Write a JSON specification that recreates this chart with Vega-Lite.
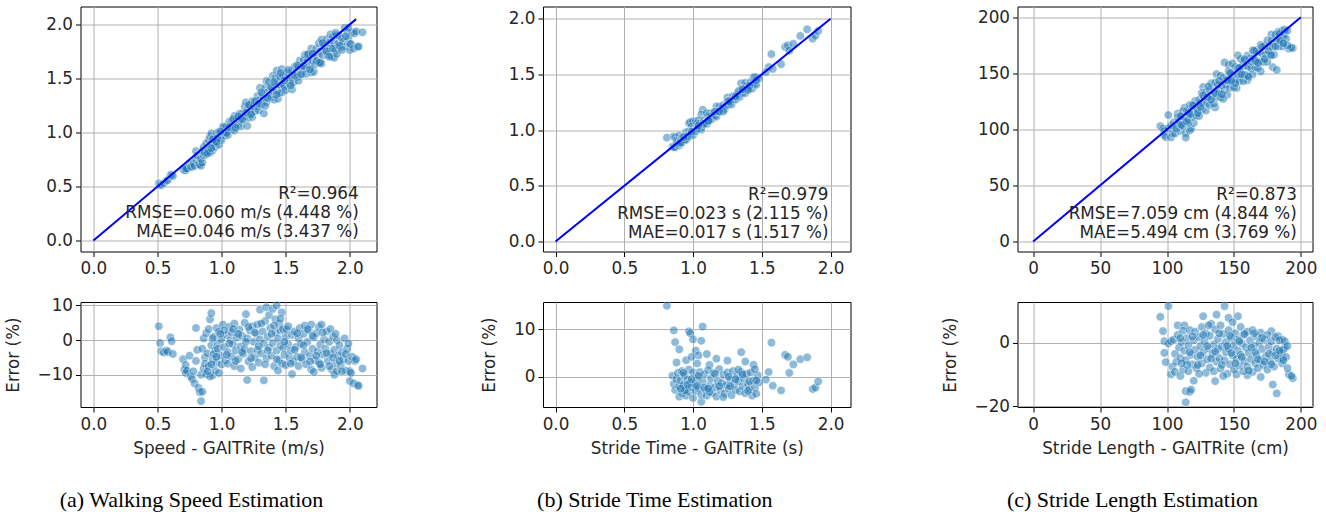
{
"$schema":"https://vega.github.io/schema/vega-lite/v6.json",
"background":"white",
"padding":{"left":4.5,"top":5.5,"right":5,"bottom":2},
"config":{
 "font":"DejaVu Sans",
 "view":{"stroke":"#000000","strokeWidth":1},
 "axis":{"grid":true,"gridColor":"#b0b0b0","gridWidth":1,"domain":false,"tickColor":"#000000","tickWidth":1,"labelFont":"DejaVu Sans","labelFontSize":16.8,"labelColor":"#262626","titleFont":"DejaVu Sans","titleFontSize":16.8,"titleFontWeight":"normal","titleColor":"#262626"},
 "axisX":{"tickSize":5,"labelPadding":4,"titlePadding":8},
 "axisY":{"tickSize":5,"labelPadding":3,"titlePadding":15},
 "title":{"font":"Liberation Serif","fontSize":22,"fontWeight":"normal","color":"#000000"}
},
"datasets":{
"speed":[
{"gt":0.51,"est":0.530,"err":4.0},{"gt":0.52,"est":0.516,"err":-0.8},{"gt":0.53,"est":0.513,"err":-3.2},{"gt":0.55,"est":0.530,"err":-3.6},{"gt":0.57,"est":0.553,"err":-3.0},{"gt":0.58,"est":0.560,"err":-3.4},{"gt":0.60,"est":0.605,"err":0.8},{"gt":0.61,"est":0.608,"err":-0.3},{"gt":0.62,"est":0.595,"err":-4.0},
{"gt":0.70,"est":0.662,"err":-5.5},{"gt":0.71,"est":0.650,"err":-8.5},{"gt":0.72,"est":0.652,"err":-9.5},{"gt":0.72,"est":0.668,"err":-7.2},{"gt":0.73,"est":0.666,"err":-8.8},{"gt":0.75,"est":0.716,"err":-4.5},{"gt":0.76,"est":0.680,"err":-10.5},{"gt":0.77,"est":0.684,"err":-11.2},{"gt":0.78,"est":0.710,"err":-9.0},{"gt":0.79,"est":0.691,"err":-12.5},{"gt":0.80,"est":0.752,"err":-6.0},{"gt":0.80,"est":0.828,"err":3.5},{"gt":0.81,"est":0.787,"err":-2.8},{"gt":0.82,"est":0.707,"err":-13.8},{"gt":0.83,"est":0.706,"err":-15.0},{"gt":0.84,"est":0.692,"err":-17.6},{"gt":0.85,"est":0.723,"err":-14.9},{"gt":0.84,"est":0.756,"err":-10.0},{"gt":0.86,"est":0.790,"err":-8.2},{"gt":0.87,"est":0.827,"err":-5.0},{"gt":0.88,"est":0.794,"err":-9.8},
{"gt":0.85,"est":0.829,"err":-2.5},{"gt":0.86,"est":0.864,"err":0.5},{"gt":0.87,"est":0.811,"err":-6.8},{"gt":0.88,"est":0.898,"err":2.0},{"gt":0.89,"est":0.856,"err":-3.8},{"gt":0.90,"est":0.833,"err":-7.5},{"gt":0.90,"est":0.929,"err":3.2},{"gt":0.91,"est":0.965,"err":6.0},{"gt":0.92,"est":0.992,"err":7.8},{"gt":0.92,"est":0.906,"err":-1.5},{"gt":0.93,"est":0.879,"err":-5.5},{"gt":0.93,"est":0.835,"err":-10.2},{"gt":0.94,"est":0.949,"err":1.0},{"gt":0.95,"est":0.866,"err":-8.8},{"gt":0.95,"est":0.922,"err":-3.0},{"gt":0.96,"est":0.898,"err":-6.5},{"gt":0.96,"est":0.994,"err":3.5},{"gt":0.97,"est":0.960,"err":-1.0},{"gt":0.98,"est":0.887,"err":-9.5},{"gt":0.98,"est":1.005,"err":2.5},{"gt":0.99,"est":0.945,"err":-4.5},{"gt":1.00,"est":1.003,"err":0.3},{"gt":1.00,"est":0.930,"err":-7.0},{"gt":0.91,"est":0.814,"err":-10.5},{"gt":0.94,"est":0.902,"err":-4.0},{"gt":0.97,"est":0.946,"err":-2.5},
{"gt":1.01,"est":1.055,"err":4.5},{"gt":1.02,"est":1.000,"err":-2.0},{"gt":1.03,"est":0.970,"err":-5.8},{"gt":1.04,"est":1.056,"err":1.5},{"gt":1.05,"est":1.013,"err":-3.5},{"gt":1.05,"est":0.979,"err":-6.8},{"gt":1.06,"est":1.100,"err":3.8},{"gt":1.07,"est":1.070,"err":0.0},{"gt":1.08,"est":1.028,"err":-4.8},{"gt":1.08,"est":1.104,"err":2.2},{"gt":1.09,"est":1.077,"err":-1.2},{"gt":1.10,"est":1.018,"err":-7.5},{"gt":1.10,"est":1.153,"err":4.8},{"gt":1.11,"est":1.077,"err":-3.0},{"gt":1.12,"est":1.129,"err":0.8},{"gt":1.13,"est":1.068,"err":-5.5},{"gt":1.14,"est":1.174,"err":3.0},{"gt":1.15,"est":1.129,"err":-1.8},{"gt":1.15,"est":1.056,"err":-8.2},{"gt":1.16,"est":1.174,"err":1.2},{"gt":1.17,"est":1.123,"err":-4.0},{"gt":1.18,"est":1.239,"err":5.0},{"gt":1.18,"est":1.151,"err":-2.5},{"gt":1.19,"est":1.279,"err":7.5},{"gt":1.20,"est":1.062,"err":-11.5},{"gt":1.20,"est":1.206,"err":0.5},{"gt":1.21,"est":1.135,"err":-6.2},{"gt":1.22,"est":1.254,"err":2.8},{"gt":1.23,"est":1.191,"err":-3.2},{"gt":1.24,"est":1.143,"err":-7.8},{"gt":1.24,"est":1.290,"err":4.0},{"gt":1.25,"est":1.244,"err":-0.5},{"gt":1.26,"est":1.197,"err":-5.0},{"gt":1.27,"est":1.293,"err":1.8},{"gt":1.28,"est":1.244,"err":-2.8},{"gt":1.28,"est":1.338,"err":4.5},{"gt":1.29,"est":1.206,"err":-6.5},{"gt":1.30,"est":1.303,"err":0.2},{"gt":1.30,"est":1.414,"err":8.8},{"gt":1.31,"est":1.260,"err":-3.8},{"gt":1.32,"est":1.353,"err":2.5},{"gt":1.33,"est":1.176,"err":-11.6},{"gt":1.33,"est":1.317,"err":-1.0},{"gt":1.34,"est":1.414,"err":5.5},{"gt":1.35,"est":1.280,"err":-5.2},{"gt":1.35,"est":1.478,"err":9.5},{"gt":1.36,"est":1.374,"err":1.0},{"gt":1.37,"est":1.340,"err":-2.2},{"gt":1.37,"est":1.469,"err":7.2},
{"gt":1.38,"est":1.428,"err":3.5},{"gt":1.39,"est":1.327,"err":-4.5},{"gt":1.40,"est":1.526,"err":9.0},{"gt":1.40,"est":1.389,"err":-0.8},{"gt":1.41,"est":1.304,"err":-7.5},{"gt":1.42,"est":1.451,"err":2.2},{"gt":1.42,"est":1.505,"err":6.0},{"gt":1.43,"est":1.573,"err":10.0},{"gt":1.43,"est":1.387,"err":-3.0},{"gt":1.44,"est":1.313,"err":-8.8},{"gt":1.44,"est":1.447,"err":0.5},{"gt":1.45,"est":1.520,"err":4.8},{"gt":1.45,"est":1.366,"err":-5.8},{"gt":1.46,"est":1.501,"err":2.8},{"gt":1.46,"est":1.438,"err":-1.5},{"gt":1.47,"est":1.588,"err":8.0},{"gt":1.47,"est":1.370,"err":-6.8},{"gt":1.48,"est":1.447,"err":-2.2},{"gt":1.48,"est":1.527,"err":3.2},{"gt":1.49,"est":1.427,"err":-4.2},{"gt":1.50,"est":1.515,"err":1.0},{"gt":1.50,"est":1.392,"err":-7.2},
{"gt":1.51,"est":1.555,"err":3.0},{"gt":1.52,"est":1.502,"err":-1.2},{"gt":1.53,"est":1.454,"err":-5.0},{"gt":1.54,"est":1.494,"err":-3.0},{"gt":1.55,"est":1.573,"err":1.5},{"gt":1.55,"est":1.398,"err":-9.8},{"gt":1.56,"est":1.463,"err":-6.2},{"gt":1.57,"est":1.609,"err":2.5},{"gt":1.58,"est":1.548,"err":-2.0},{"gt":1.59,"est":1.514,"err":-4.8},{"gt":1.60,"est":1.608,"err":0.5},{"gt":1.60,"est":1.480,"err":-7.5},{"gt":1.61,"est":1.666,"err":3.5},{"gt":1.62,"est":1.604,"err":-1.0},{"gt":1.63,"est":1.540,"err":-5.5},{"gt":1.64,"est":1.670,"err":1.8},{"gt":1.65,"est":1.592,"err":-3.5},{"gt":1.65,"est":1.719,"err":4.2},{"gt":1.66,"est":1.544,"err":-7.0},{"gt":1.67,"est":1.662,"err":-0.5},{"gt":1.68,"est":1.727,"err":2.8},{"gt":1.69,"est":1.614,"err":-4.5},{"gt":1.70,"est":1.556,"err":-8.5},{"gt":1.70,"est":1.777,"err":4.5},{"gt":1.71,"est":1.667,"err":-2.5},{"gt":1.72,"est":1.734,"err":0.8},{"gt":1.72,"est":1.562,"err":-9.2},{"gt":1.73,"est":1.630,"err":-5.8},{"gt":1.74,"est":1.775,"err":2.0},{"gt":1.75,"est":1.694,"err":-3.2},{"gt":1.76,"est":1.646,"err":-6.5},{"gt":1.76,"est":1.827,"err":3.8},{"gt":1.77,"est":1.749,"err":-1.2},{"gt":1.78,"est":1.860,"err":4.5},{"gt":1.78,"est":1.638,"err":-8.0},{"gt":1.79,"est":1.715,"err":-4.2},{"gt":1.80,"est":1.804,"err":0.2},
{"gt":1.81,"est":1.765,"err":-2.5},{"gt":1.82,"est":1.866,"err":2.5},{"gt":1.83,"est":1.720,"err":-6.0},{"gt":1.84,"est":1.831,"err":-0.5},{"gt":1.85,"est":1.909,"err":3.2},{"gt":1.85,"est":1.776,"err":-4.0},{"gt":1.86,"est":1.702,"err":-8.5},{"gt":1.87,"est":1.889,"err":1.0},{"gt":1.88,"est":1.827,"err":-2.8},{"gt":1.88,"est":1.692,"err":-10.0},{"gt":1.89,"est":1.761,"err":-6.8},{"gt":1.90,"est":1.900,"err":0.0},{"gt":1.90,"est":1.729,"err":-9.0},{"gt":1.91,"est":1.824,"err":-4.5},{"gt":1.92,"est":1.891,"err":-1.5},{"gt":1.93,"est":1.791,"err":-7.2},{"gt":1.94,"est":1.872,"err":-3.5},{"gt":1.95,"est":1.843,"err":-5.5},{"gt":1.96,"est":1.970,"err":0.5},{"gt":1.97,"est":1.797,"err":-8.8},{"gt":1.98,"est":1.930,"err":-2.5},{"gt":1.99,"est":1.871,"err":-6.0},{"gt":2.00,"est":1.764,"err":-11.8},{"gt":2.00,"est":1.820,"err":-9.0},{"gt":2.01,"est":1.819,"err":-9.5},{"gt":2.02,"est":1.923,"err":-4.8},{"gt":2.03,"est":1.776,"err":-12.5},{"gt":2.04,"est":1.918,"err":-6.0},{"gt":2.05,"est":1.937,"err":-5.5},{"gt":2.06,"est":1.792,"err":-13.0},{"gt":2.07,"est":1.797,"err":-13.2},{"gt":2.10,"est":1.928,"err":-8.2},
{"gt":1.02,"est":1.049,"err":2.8},{"gt":1.04,"est":0.996,"err":-4.2},{"gt":1.06,"est":1.049,"err":-1.0},{"gt":1.09,"est":1.125,"err":3.2},{"gt":1.11,"est":1.043,"err":-6.0},{"gt":1.13,"est":1.150,"err":1.8},{"gt":1.16,"est":1.119,"err":-3.5},{"gt":1.19,"est":1.184,"err":-0.5},{"gt":1.21,"est":1.256,"err":3.8},{"gt":1.23,"est":1.166,"err":-5.2},{"gt":1.26,"est":1.288,"err":2.2},{"gt":1.29,"est":1.267,"err":-1.8},{"gt":1.31,"est":1.373,"err":4.8},{"gt":1.34,"est":1.246,"err":-7.0},{"gt":1.36,"est":1.319,"err":-3.0},{"gt":1.39,"est":1.415,"err":1.8},{"gt":1.41,"est":1.469,"err":4.2},{"gt":1.43,"est":1.351,"err":-5.5},{"gt":1.46,"est":1.551,"err":6.2},{"gt":1.49,"est":1.483,"err":-0.5},{"gt":1.52,"est":1.581,"err":4.0},{"gt":1.54,"est":1.435,"err":-6.8},{"gt":1.57,"est":1.526,"err":-2.8},{"gt":1.59,"est":1.622,"err":2.0},{"gt":1.62,"est":1.539,"err":-5.0},{"gt":1.64,"est":1.615,"err":-1.5},{"gt":1.67,"est":1.723,"err":3.2},{"gt":1.69,"est":1.585,"err":-6.2},{"gt":1.71,"est":1.731,"err":1.2},{"gt":1.74,"est":1.662,"err":-4.5},{"gt":1.77,"est":1.646,"err":-7.0},{"gt":1.79,"est":1.829,"err":2.2},{"gt":1.82,"est":1.751,"err":-3.8},{"gt":1.84,"est":1.702,"err":-7.5},{"gt":1.87,"est":1.777,"err":-5.0},{"gt":1.89,"est":1.924,"err":1.8},{"gt":1.92,"est":1.805,"err":-6.0},{"gt":1.94,"est":1.765,"err":-9.0},{"gt":1.97,"est":1.891,"err":-4.0},{"gt":1.99,"est":1.970,"err":-1.0},{"gt":0.93,"est":0.935,"err":0.5},{"gt":0.96,"est":0.914,"err":-4.8},{"gt":0.99,"est":1.008,"err":1.8},{"gt":0.89,"est":0.810,"err":-9.0},{"gt":0.92,"est":0.856,"err":-7.0}
],
"time":[
{"gt":0.81,"est":0.932,"err":15.0},{"gt":0.86,"est":0.944,"err":9.8},{"gt":0.87,"est":0.934,"err":7.3},{"gt":0.90,"est":0.952,"err":5.8},{"gt":0.97,"est":1.063,"err":9.6},{"gt":0.98,"est":1.070,"err":9.2},{"gt":1.00,"est":1.079,"err":7.9},{"gt":1.02,"est":1.076,"err":5.5},{"gt":1.07,"est":1.183,"err":10.6},{"gt":1.06,"est":1.141,"err":7.6},{"gt":1.04,"est":1.087,"err":4.5},{"gt":1.10,"est":1.153,"err":4.8},{"gt":0.88,"est":0.906,"err":3.0},{"gt":0.95,"est":0.983,"err":3.5},{"gt":0.99,"est":1.032,"err":4.2},{"gt":1.03,"est":1.059,"err":2.8},{"gt":1.12,"est":1.148,"err":2.5},{"gt":1.17,"est":1.214,"err":3.8},{"gt":1.25,"est":1.293,"err":3.4},{"gt":1.35,"est":1.420,"err":5.2},{"gt":1.38,"est":1.424,"err":3.2},{"gt":1.44,"est":1.476,"err":2.5},{"gt":1.57,"est":1.683,"err":7.2},{"gt":1.67,"est":1.747,"err":4.6},{"gt":1.69,"est":1.761,"err":4.2},{"gt":1.70,"est":1.714,"err":0.8},{"gt":1.73,"est":1.775,"err":2.6},{"gt":1.78,"est":1.846,"err":3.7},{"gt":1.83,"est":1.905,"err":4.1},{"gt":1.55,"est":1.566,"err":1.0},{"gt":1.53,"est":1.521,"err":-0.6},{"gt":1.58,"est":1.550,"err":-1.9},{"gt":1.64,"est":1.592,"err":-2.9},{"gt":1.87,"est":1.821,"err":-2.6},{"gt":1.89,"est":1.847,"err":-2.3},{"gt":1.91,"est":1.891,"err":-1.0},
{"gt":0.85,"est":0.852,"err":0.2},{"gt":0.86,"est":0.847,"err":-1.5},{"gt":0.87,"est":0.846,"err":-2.8},{"gt":0.88,"est":0.876,"err":-0.5},{"gt":0.89,"est":0.897,"err":0.8},{"gt":0.90,"est":0.862,"err":-4.2},{"gt":0.90,"est":0.882,"err":-2.0},{"gt":0.91,"est":0.903,"err":-0.8},{"gt":0.92,"est":0.931,"err":1.2},{"gt":0.92,"est":0.888,"err":-3.5},{"gt":0.93,"est":0.913,"err":-1.8},{"gt":0.94,"est":0.943,"err":0.3},{"gt":0.95,"est":0.925,"err":-2.6},{"gt":0.95,"est":0.912,"err":-4.0},{"gt":0.96,"est":0.954,"err":-0.6},{"gt":0.97,"est":0.985,"err":1.5},{"gt":0.97,"est":0.939,"err":-3.2},{"gt":0.98,"est":0.968,"err":-1.2},{"gt":0.99,"est":0.968,"err":-2.2},{"gt":1.00,"est":0.955,"err":-4.5},{"gt":1.00,"est":1.009,"err":0.9},{"gt":1.01,"est":0.994,"err":-1.6},{"gt":1.02,"est":0.989,"err":-3.0},{"gt":1.03,"est":1.027,"err":-0.3},{"gt":1.04,"est":1.015,"err":-2.4},{"gt":1.05,"est":1.061,"err":1.0},{"gt":1.06,"est":1.004,"err":-5.3},{"gt":1.06,"est":1.020,"err":-3.8},{"gt":1.07,"est":1.059,"err":-1.0},{"gt":1.08,"est":1.085,"err":0.5},{"gt":1.09,"est":1.061,"err":-2.7},{"gt":1.10,"est":1.056,"err":-4.0},{"gt":1.11,"est":1.126,"err":1.4},{"gt":1.12,"est":1.099,"err":-1.9},{"gt":1.13,"est":1.125,"err":-0.4},{"gt":1.14,"est":1.101,"err":-3.4},{"gt":1.15,"est":1.159,"err":0.8},{"gt":1.16,"est":1.134,"err":-2.2},{"gt":1.17,"est":1.121,"err":-4.2},{"gt":1.18,"est":1.169,"err":-0.9},{"gt":1.19,"est":1.209,"err":1.6},{"gt":1.20,"est":1.165,"err":-2.9},{"gt":1.21,"est":1.194,"err":-1.3},{"gt":1.22,"est":1.225,"err":0.4},{"gt":1.23,"est":1.186,"err":-3.6},{"gt":1.24,"est":1.218,"err":-1.8},{"gt":1.25,"est":1.261,"err":0.9},{"gt":1.26,"est":1.229,"err":-2.5},{"gt":1.27,"est":1.262,"err":-0.6},{"gt":1.28,"est":1.230,"err":-3.9},{"gt":1.29,"est":1.305,"err":1.2},{"gt":1.30,"est":1.281,"err":-1.5},{"gt":1.31,"est":1.273,"err":-2.8},{"gt":1.32,"est":1.323,"err":0.2},{"gt":1.33,"est":1.318,"err":-0.9},{"gt":1.34,"est":1.298,"err":-3.1},{"gt":1.35,"est":1.364,"err":1.0},{"gt":1.36,"est":1.333,"err":-2.0},{"gt":1.37,"est":1.365,"err":-0.4},{"gt":1.38,"est":1.332,"err":-3.5},{"gt":1.39,"est":1.398,"err":0.6},{"gt":1.40,"est":1.378,"err":-1.6},{"gt":1.41,"est":1.373,"err":-2.6},{"gt":1.42,"est":1.433,"err":0.9},{"gt":1.43,"est":1.373,"err":-4.0},{"gt":1.44,"est":1.428,"err":-0.8},{"gt":1.45,"est":1.417,"err":-2.3},{"gt":1.46,"est":1.407,"err":-3.6},{"gt":1.47,"est":1.474,"err":0.3},{"gt":1.48,"est":1.462,"err":-1.2},{"gt":1.45,"est":1.473,"err":1.6},{"gt":1.41,"est":1.396,"err":-1.0},{"gt":1.12,"est":1.084,"err":-3.2},{"gt":1.03,"est":1.010,"err":-1.9},{"gt":0.94,"est":0.913,"err":-2.9},{"gt":1.16,"est":1.167,"err":0.6},{"gt":1.27,"est":1.245,"err":-2.0},{"gt":1.33,"est":1.350,"err":1.5},{"gt":1.22,"est":1.168,"err":-4.3},{"gt":1.08,"est":1.055,"err":-2.3},{"gt":0.96,"est":0.944,"err":-1.7},
{"gt":0.91,"est":0.887,"err":-2.5},{"gt":0.93,"est":0.937,"err":0.8},{"gt":0.99,"est":0.985,"err":-0.5},{"gt":1.04,"est":1.042,"err":0.2},{"gt":1.11,"est":1.082,"err":-2.5},{"gt":1.19,"est":1.166,"err":-2.0},{"gt":1.26,"est":1.260,"err":0.0},{"gt":1.31,"est":1.303,"err":-0.5},{"gt":1.36,"est":1.367,"err":0.5},{"gt":1.40,"est":1.358,"err":-3.0},{"gt":1.46,"est":1.448,"err":-0.8}
],
"length":[
{"gt":95,"est":102.8,"err":8.2},{"gt":97,"est":100.6,"err":3.7},{"gt":98,"est":98.5,"err":0.5},{"gt":98,"est":94.9,"err":-3.2},{"gt":99,"est":93.0,"err":-6.1},{"gt":101,"est":112.7,"err":11.6},{"gt":101,"est":100.8,"err":-0.2},{"gt":103,"est":103.5,"err":0.5},{"gt":103,"est":92.7,"err":-10.0},{"gt":104,"est":96.2,"err":-7.5},{"gt":106,"est":96.2,"err":-9.2},{"gt":108,"est":113.9,"err":5.5},{"gt":110,"est":98.5,"err":-10.5},{"gt":113,"est":119.2,"err":5.5},{"gt":114,"est":96.6,"err":-15.3},{"gt":117,"est":98.9,"err":-15.5},{"gt":114,"est":92.6,"err":-18.8},{"gt":118,"est":100.5,"err":-14.8},{"gt":120,"est":105.6,"err":-12.0},{"gt":136,"est":119.5,"err":-12.1},{"gt":143,"est":159.6,"err":11.6},{"gt":127,"est":137.7,"err":8.4},{"gt":137,"est":149.2,"err":8.9},{"gt":146,"est":157.5,"err":7.9},{"gt":153,"est":165.9,"err":8.4},{"gt":178,"est":184.6,"err":3.7},{"gt":183,"est":186.8,"err":2.1},{"gt":186,"est":177.3,"err":-4.7},{"gt":191,"est":171.9,"err":-10.0},{"gt":194,"est":172.3,"err":-11.2},{"gt":193,"est":172.7,"err":-10.5},{"gt":179,"est":155.4,"err":-13.2},{"gt":182,"est":152.9,"err":-16.0},{"gt":188,"est":185.2,"err":-1.5},{"gt":186,"est":187.9,"err":1.0},{"gt":170,"est":151.6,"err":-10.8},{"gt":160,"est":143.7,"err":-10.2},{"gt":152,"est":136.8,"err":-10.0},
{"gt":105,"est":106.1,"err":1.0},{"gt":106,"est":102.3,"err":-3.5},{"gt":107,"est":100.6,"err":-6.0},{"gt":108,"est":110.7,"err":2.5},{"gt":109,"est":107.4,"err":-1.5},{"gt":110,"est":104.7,"err":-4.8},{"gt":111,"est":111.2,"err":0.2},{"gt":112,"est":116.3,"err":3.8},{"gt":112,"est":102.5,"err":-8.5},{"gt":113,"est":110.2,"err":-2.5},{"gt":114,"est":107.7,"err":-5.5},{"gt":115,"est":116.7,"err":1.5},{"gt":116,"est":105.6,"err":-9.0},{"gt":116,"est":115.1,"err":-0.8},{"gt":117,"est":121.7,"err":4.0},{"gt":118,"est":113.5,"err":-3.8},{"gt":119,"est":110.9,"err":-6.8},{"gt":120,"est":121.0,"err":0.8},{"gt":121,"est":125.2,"err":3.5},{"gt":121,"est":118.3,"err":-2.2},{"gt":122,"est":112.2,"err":-8.0},{"gt":123,"est":117.5,"err":-4.5},{"gt":124,"est":126.2,"err":1.8},{"gt":125,"est":123.8,"err":-1.0},{"gt":126,"est":132.3,"err":5.0},{"gt":126,"est":117.8,"err":-6.5},{"gt":127,"est":123.2,"err":-3.0},{"gt":128,"est":128.6,"err":0.5},{"gt":129,"est":116.7,"err":-9.5},{"gt":129,"est":132.9,"err":3.0},{"gt":130,"est":123.2,"err":-5.2},{"gt":131,"est":128.6,"err":-1.8},{"gt":132,"est":134.9,"err":2.2},{"gt":132,"est":121.7,"err":-7.8},{"gt":133,"est":141.0,"err":6.0},{"gt":134,"est":129.3,"err":-3.5},{"gt":135,"est":134.3,"err":-0.5},{"gt":135,"est":122.9,"err":-9.0},{"gt":136,"est":141.7,"err":4.2},{"gt":137,"est":128.8,"err":-6.0},{"gt":138,"est":135.2,"err":-2.0},{"gt":138,"est":139.7,"err":1.2},{"gt":139,"est":132.3,"err":-4.8},{"gt":140,"est":147.7,"err":5.5},{"gt":140,"est":128.5,"err":-8.2},{"gt":141,"est":139.3,"err":-1.2},{"gt":142,"est":146.0,"err":2.8},{"gt":143,"est":135.1,"err":-5.5},{"gt":144,"est":139.7,"err":-3.0},{"gt":144,"est":144.3,"err":0.2},{"gt":145,"est":130.8,"err":-9.8},{"gt":146,"est":151.8,"err":4.0},{"gt":146,"est":143.4,"err":-1.8},{"gt":147,"est":137.0,"err":-6.8},{"gt":148,"est":150.2,"err":1.5},{"gt":149,"est":143.0,"err":-4.0},{"gt":149,"est":158.7,"err":6.5},{"gt":150,"est":148.8,"err":-0.8},{"gt":150,"est":137.3,"err":-8.5},{"gt":151,"est":155.5,"err":3.0},{"gt":152,"est":144.4,"err":-5.0},{"gt":153,"est":149.2,"err":-2.5},{"gt":153,"est":154.5,"err":1.0},{"gt":154,"est":142.9,"err":-7.2},{"gt":155,"est":162.8,"err":5.0},{"gt":155,"est":149.1,"err":-3.8},{"gt":156,"est":155.7,"err":-0.2},{"gt":157,"est":142.9,"err":-9.0},{"gt":157,"est":160.9,"err":2.5},{"gt":158,"est":148.8,"err":-5.8},{"gt":159,"est":156.6,"err":-1.5},{"gt":160,"est":165.6,"err":3.5},{"gt":160,"est":148.0,"err":-7.5},{"gt":161,"est":155.8,"err":-3.2},{"gt":162,"est":163.3,"err":0.8},{"gt":163,"est":154.5,"err":-5.2},{"gt":164,"est":170.6,"err":4.0},{"gt":164,"est":148.9,"err":-9.2},{"gt":165,"est":163.4,"err":-1.0},{"gt":166,"est":155.2,"err":-6.5},{"gt":167,"est":170.3,"err":2.0},{"gt":167,"est":160.7,"err":-3.8},{"gt":168,"est":154.6,"err":-8.0},{"gt":169,"est":169.0,"err":0.0},{"gt":170,"est":175.4,"err":3.2},{"gt":170,"est":160.7,"err":-5.5},{"gt":171,"est":167.6,"err":-2.0},{"gt":172,"est":160.0,"err":-7.0},{"gt":173,"est":174.7,"err":1.0},{"gt":174,"est":166.7,"err":-4.2},{"gt":175,"est":160.1,"err":-8.5},{"gt":175,"est":179.4,"err":2.5},{"gt":176,"est":173.9,"err":-1.2},{"gt":177,"est":166.7,"err":-5.8},{"gt":178,"est":178.9,"err":0.5},{"gt":179,"est":173.6,"err":-3.0},{"gt":180,"est":166.5,"err":-7.5},{"gt":181,"est":184.3,"err":1.8},{"gt":182,"est":178.7,"err":-1.8},{"gt":183,"est":173.9,"err":-5.0},{"gt":184,"est":185.5,"err":0.8},{"gt":185,"est":179.1,"err":-3.2},{"gt":186,"est":173.9,"err":-6.5},{"gt":187,"est":182.9,"err":-2.2},{"gt":188,"est":188.9,"err":0.5},{"gt":189,"est":180.5,"err":-4.5},{"gt":190,"est":188.1,"err":-1.0},{"gt":190,"est":174.8,"err":-8.0},{"gt":131,"est":138.2,"err":5.5},{"gt":142,"est":127.1,"err":-10.5},{"gt":124,"est":111.8,"err":-9.8},{"gt":115,"est":107.0,"err":-7.0},{"gt":110,"est":111.7,"err":1.5},
{"gt":119,"est":121.4,"err":2.0},{"gt":123,"est":114.4,"err":-7.0},{"gt":127,"est":130.2,"err":2.5},{"gt":130,"est":128.7,"err":-1.0},{"gt":133,"est":126.4,"err":-5.0},{"gt":136,"est":132.2,"err":-2.8},{"gt":139,"est":143.2,"err":3.0},{"gt":141,"est":131.1,"err":-7.0},{"gt":145,"est":143.6,"err":-1.0},{"gt":147,"est":150.2,"err":2.2},{"gt":151,"est":141.2,"err":-6.5},{"gt":154,"est":154.8,"err":0.5},{"gt":156,"est":149.0,"err":-4.5},{"gt":158,"est":162.4,"err":2.8},{"gt":161,"est":146.8,"err":-8.8},{"gt":163,"est":160.6,"err":-1.5},{"gt":165,"est":170.0,"err":3.0},{"gt":166,"est":161.0,"err":-3.0},{"gt":168,"est":159.3,"err":-5.2},{"gt":171,"est":173.6,"err":1.5},{"gt":173,"est":162.6,"err":-6.0},{"gt":176,"est":169.8,"err":-3.5},{"gt":178,"est":165.9,"err":-6.8},{"gt":181,"est":173.8,"err":-4.0},{"gt":184,"est":179.4,"err":-2.5},{"gt":187,"est":176.7,"err":-5.5},{"gt":117,"est":113.5,"err":-3.0},{"gt":111,"est":103.8,"err":-6.5},{"gt":125,"est":120.0,"err":-4.0},{"gt":148,"est":143.3,"err":-3.2}
]
},
"columns":3,
"spacing":{"row":50.5,"column":166.5},
"bounds":"flush",
"concat":[
  {"width":296,"height":245,
   "layer":[
    {"data":{"name":"speed"},"mark":{"type":"point","filled":true,"size":76,"color":"#1f77b4","opacity":0.5,"stroke":"#ffffff","strokeWidth":0.8},
     "encoding":{"x":{"field":"gt","type":"quantitative","title":null,"scale":{"domain":[-0.101,2.209],"nice":false,"zero":false},"axis":{"values":[0,0.5,1,1.5,2],"format":".1f"}},
                 "y":{"field":"est","type":"quantitative","title":"Est. Speed (m/s)","scale":{"domain":[-0.102,2.167],"nice":false,"zero":false},"axis":{"values":[0,0.5,1,1.5,2],"format":".1f"}}}},
    {"data":{"values":[{"v":0},{"v":2.05}]},"mark":{"type":"line","color":"#0000ff","strokeWidth":2},
     "encoding":{"x":{"field":"v","type":"quantitative","title":null},"y":{"field":"v","type":"quantitative","title":null}}},
    {"data":{"values":[{"label":"R²=0.964\nRMSE=0.060 m/s (4.448 %)\nMAE=0.046 m/s (3.437 %)"}]},"mark":{"type":"text","align":"right","baseline":"alphabetic","lineBreak":"\n","lineHeight":19,"fontSize":16.8,"color":"#262626","font":"DejaVu Sans"},
     "encoding":{"x":{"datum":2.07,"type":"quantitative","title":null},"y":{"datum":0.386,"type":"quantitative","title":null},"text":{"field":"label"}}}
   ]},
  {"width":307.5,"height":245,
   "layer":[
    {"data":{"name":"time"},"mark":{"type":"point","filled":true,"size":76,"color":"#1f77b4","opacity":0.5,"stroke":"#ffffff","strokeWidth":0.8},
     "encoding":{"x":{"field":"gt","type":"quantitative","title":null,"scale":{"domain":[-0.091,2.145],"nice":false,"zero":false},"axis":{"values":[0,0.5,1,1.5,2],"format":".1f"}},
                 "y":{"field":"est","type":"quantitative","title":"Est. Stride Time (s)","scale":{"domain":[-0.09,2.11],"nice":false,"zero":false},"axis":{"values":[0,0.5,1,1.5,2],"format":".1f"}}}},
    {"data":{"values":[{"v":0},{"v":2.0}]},"mark":{"type":"line","color":"#0000ff","strokeWidth":2},
     "encoding":{"x":{"field":"v","type":"quantitative","title":null},"y":{"field":"v","type":"quantitative","title":null}}},
    {"data":{"values":[{"label":"R²=0.979\nRMSE=0.023 s (2.115 %)\nMAE=0.017 s (1.517 %)"}]},"mark":{"type":"text","align":"right","baseline":"alphabetic","lineBreak":"\n","lineHeight":19,"fontSize":16.8,"color":"#262626","font":"DejaVu Sans"},
     "encoding":{"x":{"datum":1.985,"type":"quantitative","title":null},"y":{"datum":0.374,"type":"quantitative","title":null},"text":{"field":"label"}}}
   ]},
  {"width":295,"height":245,
   "layer":[
    {"data":{"name":"length"},"mark":{"type":"point","filled":true,"size":76,"color":"#1f77b4","opacity":0.5,"stroke":"#ffffff","strokeWidth":0.8},
     "encoding":{"x":{"field":"gt","type":"quantitative","title":null,"scale":{"domain":[-11.7,208.7],"nice":false,"zero":false},"axis":{"values":[0,50,100,150,200],"format":"d"}},
                 "y":{"field":"est","type":"quantitative","title":"Est. Stride Length (cm)","scale":{"domain":[-9,209.5],"nice":false,"zero":false},"axis":{"values":[0,50,100,150,200],"format":"d"}}}},
    {"data":{"values":[{"v":0},{"v":200}]},"mark":{"type":"line","color":"#0000ff","strokeWidth":2},
     "encoding":{"x":{"field":"v","type":"quantitative","title":null},"y":{"field":"v","type":"quantitative","title":null}}},
    {"data":{"values":[{"label":"R²=0.873\nRMSE=7.059 cm (4.844 %)\nMAE=5.494 cm (3.769 %)"}]},"mark":{"type":"text","align":"right","baseline":"alphabetic","lineBreak":"\n","lineHeight":19,"fontSize":16.8,"color":"#262626","font":"DejaVu Sans"},
     "encoding":{"x":{"datum":197,"type":"quantitative","title":null},"y":{"datum":36.9,"type":"quantitative","title":null},"text":{"field":"label"}}}
   ]},
  {"width":296,"height":105,"data":{"name":"speed"},
   "title":{"text":"(a) Walking Speed Estimation","orient":"bottom","anchor":"middle","offset":32,"dx":-37},
   "mark":{"type":"point","filled":true,"size":76,"color":"#1f77b4","opacity":0.5,"stroke":"#ffffff","strokeWidth":0.8},
   "encoding":{"x":{"field":"gt","type":"quantitative","title":"Speed - GAITRite (m/s)","scale":{"domain":[-0.101,2.209],"nice":false,"zero":false},"axis":{"values":[0,0.5,1,1.5,2],"format":".1f"}},
               "y":{"field":"err","type":"quantitative","title":"Error (%)","scale":{"domain":[-19.3,11],"nice":false,"zero":false},"axis":{"values":[-10,0,10],"format":"d"}}}},
  {"width":307.5,"height":105,"data":{"name":"time"},
   "title":{"text":"(b) Stride Time Estimation","orient":"bottom","anchor":"middle","offset":32,"dx":-42},
   "mark":{"type":"point","filled":true,"size":76,"color":"#1f77b4","opacity":0.5,"stroke":"#ffffff","strokeWidth":0.8},
   "encoding":{"x":{"field":"gt","type":"quantitative","title":"Stride Time - GAITRite (s)","scale":{"domain":[-0.091,2.145],"nice":false,"zero":false},"axis":{"values":[0,0.5,1,1.5,2],"format":".1f"}},
               "y":{"field":"err","type":"quantitative","title":"Error (%)","scale":{"domain":[-6.4,15.8],"nice":false,"zero":false},"axis":{"values":[0,10],"format":"d"}}}},
  {"width":295,"height":105,"data":{"name":"length"},
   "title":{"text":"(c) Stride Length Estimation","orient":"bottom","anchor":"middle","offset":32,"dx":-32.5},
   "mark":{"type":"point","filled":true,"size":76,"color":"#1f77b4","opacity":0.5,"stroke":"#ffffff","strokeWidth":0.8},
   "encoding":{"x":{"field":"gt","type":"quantitative","title":"Stride Length - GAITRite (cm)","scale":{"domain":[-11.7,208.7],"nice":false,"zero":false},"axis":{"values":[0,50,100,150,200],"format":"d"}},
               "y":{"field":"err","type":"quantitative","title":"Error (%)","scale":{"domain":[-20.3,12.9],"nice":false,"zero":false},"axis":{"values":[-20,0],"format":"d"}}}}
]
}
